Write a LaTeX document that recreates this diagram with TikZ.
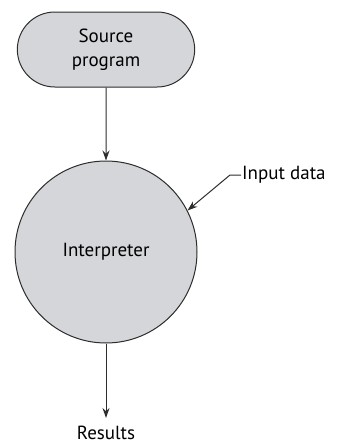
\documentclass[tikz,border=0pt]{standalone}
\usepackage{fontspec}
\setmainfont{PT Sans}
\usetikzlibrary{shapes.misc, arrows.meta}

\definecolor{boxgrey}{RGB}{212,214,217}
\definecolor{linegrey}{RGB}{45,45,45}

\tikzset{
	box/.style={draw=linegrey, fill=boxgrey, line width=1pt},
	flow/.style={draw=linegrey, line width=1pt, -{Stealth[length=10pt,width=7pt]}}
}

\begin{document}
\begin{tikzpicture}[x=1pt, y=-1pt, font=\fontsize{19}{24}\selectfont]
	\useasboundingbox (0,0) rectangle (338,447);
	
	% Source program
	\node[box, rounded rectangle, minimum width=184pt, minimum height=75pt, align=center] (src) at (106,49.5) {Source\\program};
	
	% Interpreter
	\node[box, circle, minimum size=182pt] (interp) at (106,252) {Interpreter};
	
	% Input data
	\node[anchor=west, inner sep=1pt] (inp) at (241,175) {Input data};
	\coordinate (bend) at (230,175);
	
	% Results
	\node[inner sep=1pt] (res) at (106,433) {Results};
	
	\draw[flow] (src) -- (interp);
	\draw[flow] (inp.west) -- (bend) -- (interp.27);
	\draw[flow, shorten >=7pt] (interp) -- (res);
\end{tikzpicture}
\end{document}
